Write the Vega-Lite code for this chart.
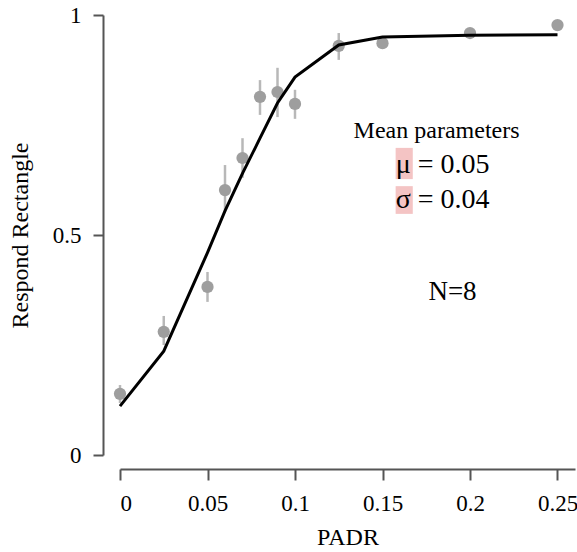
{
  "$schema": "https://vega.github.io/schema/vega-lite/v6.json",
  "width": 455,
  "height": 440,
  "autosize": {"type": "none"},
  "padding": {"left": 120, "top": 15, "right": 2, "bottom": 97},
  "background": "white",
  "config": {
    "view": {"stroke": null},
    "font": "Liberation Serif",
    "axis": {"grid": false, "labelFont": "Liberation Serif", "titleFont": "Liberation Serif", "titleFontWeight": "normal", "labelColor": "#000", "titleColor": "#000", "domainColor": "#555", "tickColor": "#555", "domainWidth": 2, "tickWidth": 2}
  },
  "datasets": {
    "obs": [
      {"padr": 0, "resp": 0.139, "lo": 0.118, "hi": 0.159},
      {"padr": 0.025, "resp": 0.28, "lo": 0.25, "hi": 0.316},
      {"padr": 0.05, "resp": 0.382, "lo": 0.348, "hi": 0.416},
      {"padr": 0.06, "resp": 0.602, "lo": 0.552, "hi": 0.659},
      {"padr": 0.07, "resp": 0.675, "lo": 0.63, "hi": 0.72},
      {"padr": 0.08, "resp": 0.814, "lo": 0.773, "hi": 0.852},
      {"padr": 0.09, "resp": 0.825, "lo": 0.768, "hi": 0.88},
      {"padr": 0.1, "resp": 0.798, "lo": 0.764, "hi": 0.83},
      {"padr": 0.125, "resp": 0.93, "lo": 0.898, "hi": 0.959},
      {"padr": 0.15, "resp": 0.936, "lo": 0.926, "hi": 0.946},
      {"padr": 0.2, "resp": 0.959, "lo": 0.953, "hi": 0.965},
      {"padr": 0.25, "resp": 0.977, "lo": 0.971, "hi": 0.983}
    ],
    "fit": [
      {"padr": 0, "p": 0.111},
      {"padr": 0.025, "p": 0.236},
      {"padr": 0.05, "p": 0.46},
      {"padr": 0.06, "p": 0.555},
      {"padr": 0.07, "p": 0.64},
      {"padr": 0.08, "p": 0.72},
      {"padr": 0.09, "p": 0.8},
      {"padr": 0.1, "p": 0.859},
      {"padr": 0.125, "p": 0.932},
      {"padr": 0.15, "p": 0.95},
      {"padr": 0.2, "p": 0.954},
      {"padr": 0.25, "p": 0.955}
    ],
    "hl": [
      {"x1": 0.1575, "x2": 0.1673, "y1": 0.627, "y2": 0.698},
      {"x1": 0.1575, "x2": 0.1673, "y1": 0.548, "y2": 0.611}
    ],
    "title": [{"x": 0.1809, "y": 0.736, "t": "Mean parameters"}],
    "params": [
      {"x": 0.1575, "y": 0.659, "t": "μ = 0.05"},
      {"x": 0.1575, "y": 0.58, "t": "σ = 0.04"}
    ],
    "n": [{"x": 0.19, "y": 0.37, "t": "N=8"}]
  },
  "layer": [
    {
      "data": {"name": "hl"},
      "mark": {"type": "rect", "color": "#f4c4c4"},
      "encoding": {
        "x": {"field": "x1", "type": "quantitative", "scale": {"domain": [0, 0.25]},
          "axis": {"values": [0, 0.05, 0.1, 0.15, 0.2, 0.25], "format": "~g", "title": "PADR", "offset": 14, "tickSize": 11, "labelFontSize": 23, "titleFontSize": 24, "labelPadding": 12, "titlePadding": 10}},
        "x2": {"field": "x2"},
        "y": {"field": "y1", "type": "quantitative", "scale": {"domain": [0, 1]},
          "axis": {"values": [0, 0.5, 1], "format": "~g", "title": "Respond Rectangle", "offset": 17, "tickSize": 10, "labelFontSize": 23, "titleFontSize": 24, "labelPadding": 12, "titlePadding": 20}},
        "y2": {"field": "y2"}
      }
    },
    {
      "data": {"name": "obs"},
      "mark": {"type": "rule", "color": "#b8b8b8", "strokeWidth": 2.5},
      "encoding": {
        "x": {"field": "padr", "type": "quantitative"},
        "y": {"field": "lo", "type": "quantitative"},
        "y2": {"field": "hi"}
      }
    },
    {
      "data": {"name": "obs"},
      "mark": {"type": "circle", "color": "#9e9e9e", "opacity": 1, "size": 150},
      "encoding": {
        "x": {"field": "padr", "type": "quantitative"},
        "y": {"field": "resp", "type": "quantitative"}
      }
    },
    {
      "data": {"name": "fit"},
      "mark": {"type": "line", "color": "#000", "strokeWidth": 3},
      "encoding": {
        "x": {"field": "padr", "type": "quantitative"},
        "y": {"field": "p", "type": "quantitative"}
      }
    },
    {
      "data": {"name": "title"},
      "mark": {"type": "text", "font": "Liberation Serif", "fontSize": 24, "align": "center", "baseline": "middle", "color": "#000"},
      "encoding": {
        "x": {"field": "x", "type": "quantitative"},
        "y": {"field": "y", "type": "quantitative"},
        "text": {"field": "t"}
      }
    },
    {
      "data": {"name": "params"},
      "mark": {"type": "text", "font": "Liberation Serif", "fontSize": 28, "align": "left", "baseline": "middle", "color": "#000"},
      "encoding": {
        "x": {"field": "x", "type": "quantitative"},
        "y": {"field": "y", "type": "quantitative"},
        "text": {"field": "t"}
      }
    },
    {
      "data": {"name": "n"},
      "mark": {"type": "text", "font": "Liberation Serif", "fontSize": 27, "align": "center", "baseline": "middle", "color": "#000"},
      "encoding": {
        "x": {"field": "x", "type": "quantitative"},
        "y": {"field": "y", "type": "quantitative"},
        "text": {"field": "t"}
      }
    }
  ]
}
